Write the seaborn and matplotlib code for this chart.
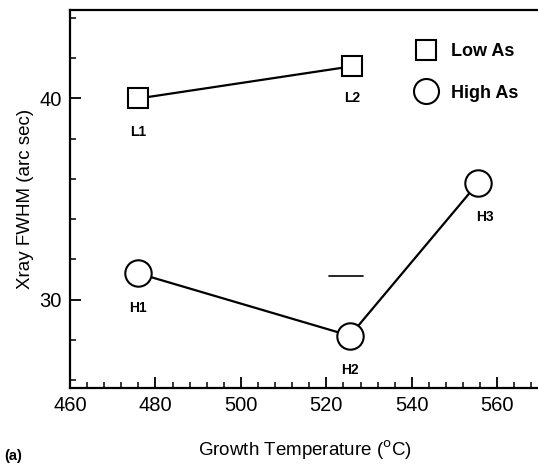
import matplotlib
matplotlib.use("Agg")
import matplotlib.pyplot as plt
import numpy as np
import pandas as pd
import seaborn as sns
from matplotlib.ticker import MultipleLocator
from matplotlib.lines import Line2D

# values
low_temp = [476, 526]
low_fwhm = [40.0, 41.6]
low_names = ["L1", "L2"]

high_temp = [476, 525.5, 555.5]
high_fwhm = [31.3, 28.2, 35.8]
high_names = ["H1", "H2", "H3"]

sns.set_theme(style="white")
plt.rcParams["font.family"] = ["Liberation Sans", "DejaVu Sans"]
plt.rcParams["text.color"] = "black"
plt.rcParams["axes.labelcolor"] = "black"
plt.rcParams["xtick.color"] = "black"
plt.rcParams["ytick.color"] = "black"

low = pd.DataFrame({"T": low_temp, "FWHM": low_fwhm, "name": low_names})
high = pd.DataFrame({"T": high_temp, "FWHM": high_fwhm, "name": high_names})

fig = plt.figure(figsize=(5.38, 4.66), dpi=100)
ax = fig.add_axes([70 / 538, 78 / 466, 470 / 538, 378 / 466])

sns.lineplot(data=low, x="T", y="FWHM", ax=ax, color="black", lw=1.6,
             marker="s", markersize=14, markerfacecolor="white",
             markeredgecolor="black", markeredgewidth=1.5)
sns.lineplot(data=high, x="T", y="FWHM", ax=ax, color="black", lw=1.6,
             marker="o", markersize=19, markerfacecolor="white",
             markeredgecolor="black", markeredgewidth=1.5)

# point labels
offsets = {"L1": (0, -1.65), "L2": (0, -1.6), "H1": (0, -1.7),
           "H2": (0, -1.7), "H3": (1.5, -1.7)}
for df in (low, high):
    for _, r in df.iterrows():
        dx, dy = offsets[r["name"]]
        ax.text(r["T"] + dx, r["FWHM"] + dy, r["name"], ha="center",
                va="center", fontsize=10, fontweight="bold")

# small scale bar in the middle
ax.plot([520.5, 528.6], [31.15, 31.15], color="black", lw=1.2)

ax.set_xlim(460, 570)
ax.set_ylim(25.6, 44.4)
ax.xaxis.set_major_locator(MultipleLocator(20))
ax.xaxis.set_minor_locator(MultipleLocator(4))
ax.yaxis.set_major_locator(MultipleLocator(10))
ax.yaxis.set_minor_locator(MultipleLocator(2))
ax.tick_params(which="major", direction="in", length=8, width=1.3,
               labelsize=14.5, pad=6)
ax.tick_params(which="minor", direction="in", length=4, width=1.1)
ax.tick_params(axis="x", which="both", bottom=True)
ax.tick_params(axis="y", which="both", left=True)
for s in ax.spines.values():
    s.set_color("black")
    s.set_linewidth(1.6)

ax.set_xlabel("Growth Temperature ($^{\\mathrm{o}}$C)", fontsize=13.5, labelpad=17)
ax.set_ylabel("Xray FWHM (arc sec)", fontsize=13.5, labelpad=4)

handles = [
    Line2D([], [], ls="none", marker="s", markersize=14, markerfacecolor="white",
           markeredgecolor="black", markeredgewidth=1.5, label="Low As"),
    Line2D([], [], ls="none", marker="o", markersize=18, markerfacecolor="white",
           markeredgecolor="black", markeredgewidth=1.5, label="High As"),
]
leg = ax.legend(handles=handles, loc="upper left", bbox_to_anchor=(0.685, 0.955),
                frameon=False, fontsize=13, handletextpad=0.35, labelspacing=1.35)
for t in leg.get_texts():
    t.set_fontweight("bold")

fig.text(4 / 538, 6 / 466, "(a)", fontsize=10.5, fontweight="bold")

fig.savefig("out.png", dpi=100)
